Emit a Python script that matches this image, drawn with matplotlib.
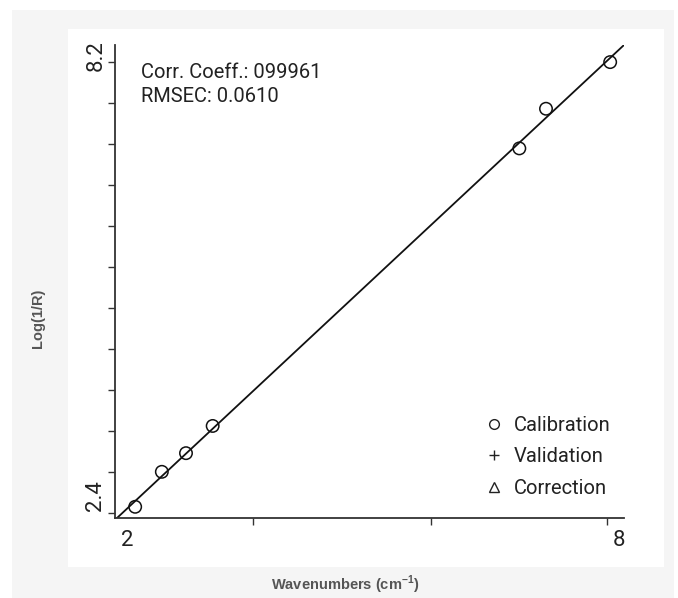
import matplotlib
matplotlib.use("Agg")
import matplotlib.pyplot as plt
from matplotlib.patches import Rectangle
from matplotlib.lines import Line2D

plt.rcParams['font.family'] = ['Roboto', 'DejaVu Sans']
plt.rcParams['font.size'] = 12

# ==== Data ==== #
calib_x = [2.17, 2.49, 2.78, 3.10, 6.78, 7.10, 7.87]
calib_y = [2.48, 2.93, 3.17, 3.52, 7.09, 7.60, 8.20]
fit_x = [1.95, 8.04]
fit_slope = 1.0
fit_intercept = 0.384
y_ticks = [2.4 + i * (8.2 - 2.4) / 11 for i in range(12)]
x_ticks = [3.585, 5.72, 7.83]
legend_labels = ["Calibration", "Validation", "Correction"]
legend_markers = ["o", "+", "^"]
stats_text = ["Corr. Coeff.: 099961", "RMSEC: 0.0610"]

# ==== Figure ==== #
fig = plt.figure(figsize=(6.78, 5.98), dpi=100)
fig.patch.set_facecolor('white')
W, H = 678, 598
fig.patches.append(Rectangle((12 / W, 0), 662 / W, 588 / H, transform=fig.transFigure,
                             facecolor='#f5f5f5', edgecolor='none', zorder=-2))
fig.patches.append(Rectangle((68 / W, 31 / H), 596 / W, 538 / H, transform=fig.transFigure,
                             facecolor='white', edgecolor='none', zorder=-1))

ax = fig.add_axes([115 / W, 80 / H, 509 / W, 473 / H])
ax.set_facecolor('none')
ax.set_xlim(1.928, 8.036)
ax.set_ylim(2.336, 8.42)

ax.plot(fit_x, [fit_slope * v + fit_intercept for v in fit_x], color='#111111', lw=1.3)
ax.scatter(calib_x, calib_y, s=80, facecolors='none', edgecolors='#111111', linewidths=1.1, zorder=3)

for s in ['top', 'right']:
    ax.spines[s].set_visible(False)
for s in ['left', 'bottom']:
    ax.spines[s].set_color('#333333')
    ax.spines[s].set_linewidth(1.3)

ax.set_yticks(y_ticks)
ax.set_yticklabels([])
ax.set_xticks(x_ticks)
ax.set_xticklabels([])
ax.tick_params(length=5, width=1, color='#333333')

# end labels
ax.text(2.08, 2.18, "2", ha='center', va='top', fontsize=16, color='#222222')
ax.text(7.98, 2.18, "8", ha='center', va='top', fontsize=16, color='#222222')
ax.text(1.70, 2.42, "2.4", rotation=90, ha='center', va='bottom', fontsize=16, color='#222222')
ax.text(1.70, 8.28, "8.2", rotation=90, ha='center', va='center', fontsize=16, color='#222222')
for t in ax.texts:
    t.set_clip_on(False)

# stats
ax.text(2.24, 8.06, stats_text[0], ha='left', va='center', fontsize=14.5, color='#222222')
ax.text(2.24, 7.76, stats_text[1], ha='left', va='center', fontsize=14.5, color='#222222')

# legend
handles = [Line2D([], [], linestyle='none', marker=m, markersize=7, markerfacecolor='none',
                  markeredgecolor='#222222', markeredgewidth=1) for m in legend_markers]
ax.legend(handles, legend_labels, loc='upper left', bbox_to_anchor=(481.5 / W, 1 - 416 / H),
          bbox_transform=fig.transFigure, frameon=False, borderpad=0, borderaxespad=0,
          fontsize=14.5, handletextpad=0.4, handlelength=1.2, labelspacing=0.62, labelcolor='#222222')

fig.text(38 / W, 1 - 318 / H, "Log(1/R)", rotation=90, ha='center', va='center',
         fontsize=10.5, fontweight='bold', color='#555555', family=['Liberation Sans'])
fig.text(345 / W, 1 - 585 / H, "Wavenumbers (cm$^{\\mathregular{-1}}$)", ha='center', va='center',
         fontsize=10.5, fontweight='bold', color='#555555', family=['Liberation Sans'])

fig.savefig("out.png", dpi=100)
